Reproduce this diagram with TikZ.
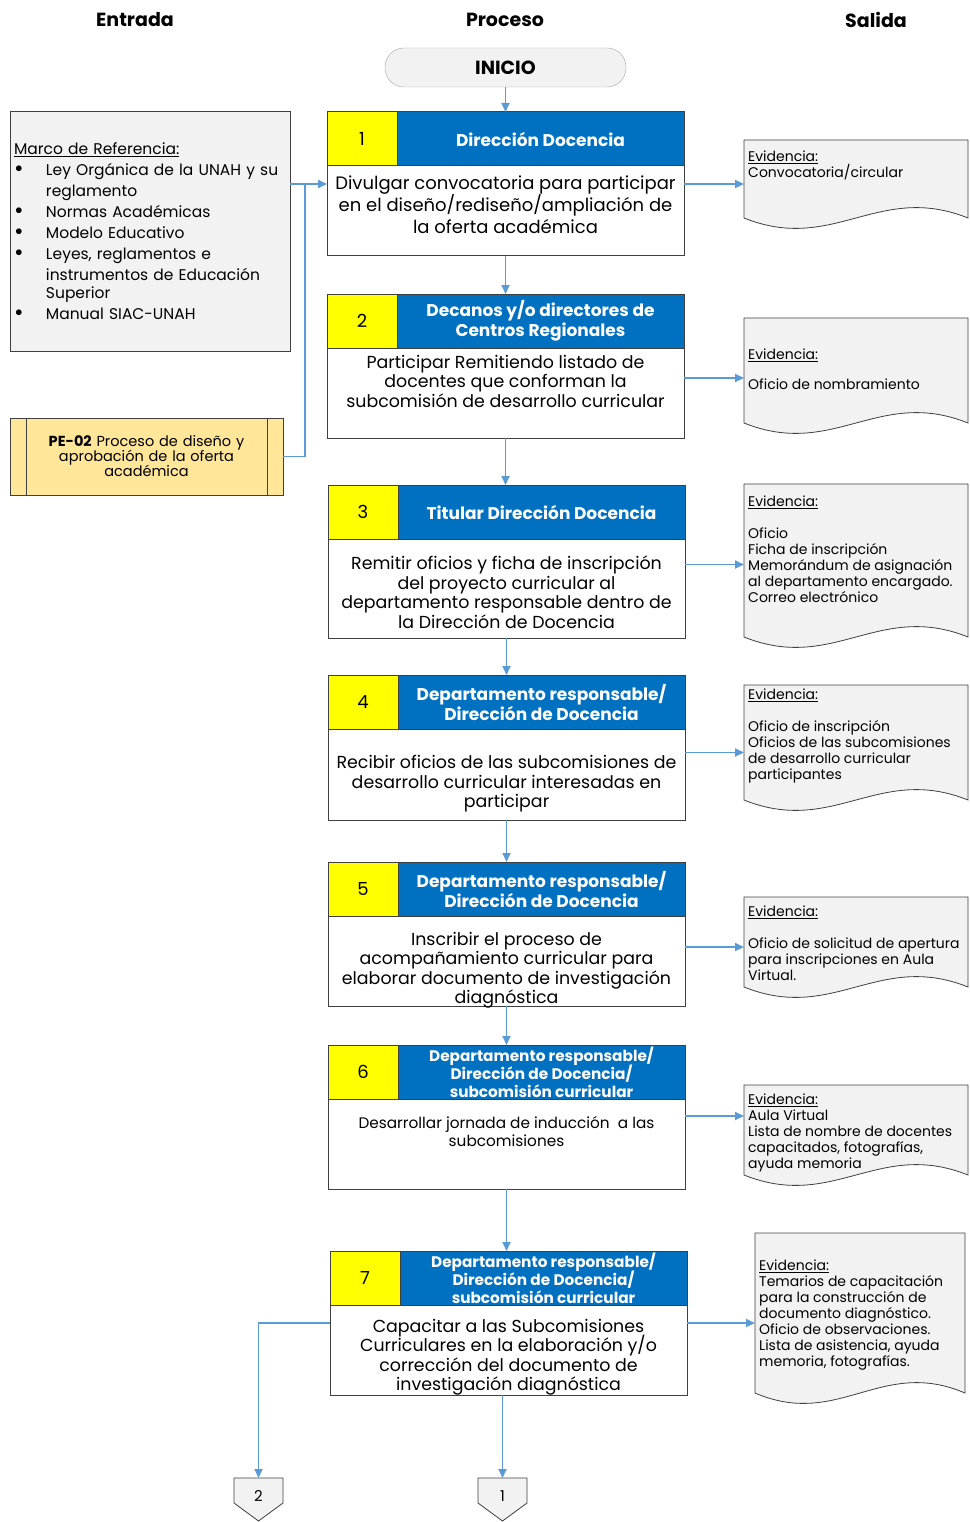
\documentclass[tikz,border=0pt]{standalone}
\usepackage{fontspec}
\setmainfont{Poppins}
\usetikzlibrary{arrows.meta,positioning,calc}
\definecolor{flowblue}{HTML}{5B9BD5}
\definecolor{headblue}{HTML}{0070C0}
\definecolor{numyellow}{HTML}{FFFF00}
\definecolor{boxgray}{HTML}{F2F2F2}
\definecolor{edgegray}{HTML}{404040}
\definecolor{procgold}{HTML}{FFE699}
\newcommand{\fs}[2]{\fontsize{#1}{#2}\selectfont\lineskiplimit=-20pt}
\newcommand{\bul}{\makebox[32pt][l]{\raisebox{-1pt}{\scalebox{1.5}{•}}}}
% one step of the process: number, x, top, body height, text offset, header font, body font, header, body
\newcommand{\paso}[9]{%
  \node[numcell,anchor=north west] (n#1) at (#2,#3) {#1};
  \node[headcell,font=\bfseries#6,anchor=north west] (h#1) at (n#1.north east) {#8};
  \node[bodycell,minimum height=#4,anchor=north west] (b#1) at (n#1.south west) {};
  \node[bodytext,font=#7,anchor=north] (t#1) at ([yshift=-#5]b#1.north) {#9};
}
% output document: name, x, top, width, height, text offset, text
\newcommand{\evid}[7]{%
  \node[docbox,minimum width=#4,minimum height=#5,anchor=north west] (#1) at (#2,#3) {};
  \path[docline] (#1.south west) -- (#1.north west) -- (#1.north east) -- (#1.south east)
    .. controls ($(#1.south east)!0.4!(#1.south west)+(0,-36)$) and ($(#1.south east)!0.6!(#1.south west)+(0,36)$) .. (#1.south west) -- cycle;
  \node[doctext,anchor=north west] (#1t) at ([xshift=4pt,yshift=-#6]#1.north west) {#7};
}

\begin{document}
\begin{tikzpicture}[x=1pt,y=-1pt,
    numcell/.style={rectangle,draw=edgegray,fill=numyellow,line width=1pt,outer sep=0pt,
      minimum width=70pt,minimum height=54pt,font=\fs{18}{20}},
    headcell/.style={rectangle,draw=edgegray,fill=headblue,line width=1pt,outer sep=0pt,
      minimum width=287pt,minimum height=54pt,align=center,text=white,inner sep=1pt},
    bodycell/.style={rectangle,draw=edgegray,fill=white,line width=1pt,outer sep=0pt,minimum width=357pt},
    bodytext/.style={align=center,inner sep=0pt},
    docbox/.style={rectangle,inner sep=0pt,outer sep=0pt},
    docline/.style={draw=edgegray,fill=boxgray,line width=0.8pt},
    doctext/.style={align=left,inner sep=0pt,font=\fs{14}{16}},
    title/.style={font=\bfseries\fs{19}{22}},
    arrow/.style={-{Triangle[length=9pt,width=8pt]},draw=flowblue,line width=1.8pt},
    link/.style={draw=flowblue,line width=1.8pt}]
  \useasboundingbox (0,0) rectangle (969,1522);

  % column titles
  \node[title] (tin) at (135,20) {Entrada};
  \node[title] (tpro) at (505,20) {Proceso};
  \node[title] (tsal) at (876,20) {Salida};

  \node[rectangle,rounded corners=19pt,draw=gray!70,fill=boxgray,minimum width=241pt,minimum height=39pt,
    font=\bfseries\fs{19}{22}] (inicio) at (505.5,67.5) {INICIO};

  % inputs
  \node[rectangle,draw=edgegray,fill=boxgray,line width=1pt,outer sep=0pt,anchor=north west,
    minimum width=280pt,minimum height=239pt,text width=272pt,inner xsep=4pt,align=left,
    font=\fs{15.5}{21}] (marco) at (10,112) {\underline{Marco de Referencia:}\\
    \bul Ley Orgánica de la UNAH y su\\
    \hspace*{32pt}reglamento\\
    \bul Normas Académicas\\
    \bul Modelo Educativo\\
    \bul Leyes,\ reglamentos\ e\\
    \hspace*{32pt}instrumentos de Educación\\[-3pt]
    \hspace*{32pt}Superior\\
    \bul Manual SIAC-UNAH};
  \node[rectangle,draw=edgegray,fill=procgold,line width=1pt,outer sep=0pt,anchor=north west,
    minimum width=273pt,minimum height=77pt,text width=235pt,align=center,
    font=\fs{14.5}{15}] (pe) at (10,418) {\textbf{PE-02} Proceso de diseño y\\aprobación de la oferta\\académica};
  \draw[draw=edgegray,line width=1pt] ([xshift=16pt]pe.north west) -- ([xshift=16pt]pe.south west)
    ([xshift=-16pt]pe.north east) -- ([xshift=-16pt]pe.south east);

  % process steps
  \paso{1}{327}{112}{90pt}{10pt}{\fs{17}{20}}{\fs{18}{22}}{Dirección Docencia}
    {Divulgar convocatoria para participar\\en el diseño/rediseño/ampliación de\\la oferta académica}
  \paso{2}{327}{294}{90pt}{7pt}{\fs{17}{20}}{\fs{17.4}{19.5}}{Decanos y/o directores de\\Centros Regionales}
    {Participar Remitiendo listado de\\docentes que conforman la\\subcomisión de desarrollo curricular}
  \paso{3}{328}{485}{99pt}{17pt}{\fs{17}{20}}{\fs{17.4}{19.5}}{Titular Dirección Docencia}
    {Remitir oficios y ficha de inscripción\\del proyecto curricular al\\departamento responsable dentro de\\la Dirección de Docencia}
  \paso{4}{328}{675}{91pt}{26pt}{\fs{17}{20}}{\fs{17.4}{19.5}}{Departamento responsable/\\Dirección de Docencia}
    {Recibir oficios de las subcomisiones de\\desarrollo curricular interesadas en\\participar}
  \paso{5}{328}{862}{90pt}{16pt}{\fs{17}{20}}{\fs{17.4}{19.5}}{Departamento responsable/\\Dirección de Docencia}
    {Inscribir el proceso de\\acompañamiento curricular para\\elaborar documento de investigación\\diagnóstica}
  \paso{6}{328}{1045}{90pt}{17pt}{\fs{15.3}{18}}{\fs{15.3}{18}}{Departamento responsable/\\Dirección de Docencia/\\subcomisión curricular}
    {Desarrollar jornada de inducción\ \ a las\\subcomisiones}
  \paso{7}{330}{1251}{90pt}{14pt}{\fs{15.3}{18}}{\fs{17.4}{19.5}}{Departamento responsable/\\Dirección de Docencia/\\subcomisión curricular}
    {Capacitar a las Subcomisiones\\Curriculares en la elaboración y/o\\corrección del documento de\\investigación diagnóstica}

  % outputs
  \evid{e1}{744}{140}{224}{78}{11pt}{\underline{Evidencia:}\\Convocatoria/circular}
  \evid{e2}{744}{318}{224}{105}{31pt}{\underline{Evidencia:}\\[14pt]Oficio de nombramiento}
  \evid{e3}{744}{484}{224}{153}{12pt}{\underline{Evidencia:}\\[16pt]Oficio\\Ficha de inscripción\\Memorándum de asignación\\al departamento encargado.\\Correo electrónico}
  \evid{e4}{744}{685}{224}{115}{4pt}{\underline{Evidencia:}\\[16pt]Oficio de inscripción\\Oficios de las subcomisiones\\de desarrollo curricular\\participantes}
  \evid{e5}{744}{897}{224}{90}{9pt}{\underline{Evidencia:}\\[16pt]Oficio de solicitud de apertura\\para inscripciones en Aula\\Virtual.}
  \evid{e6}{744}{1085}{224}{90}{9pt}{\underline{Evidencia:}\\Aula Virtual\\Lista de nombre de docentes\\capacitados, fotografías,\\ayuda memoria}
  \evid{e7}{755}{1233}{210}{160}{27pt}{\underline{Evidencia:}\\Temarios de capacitación\\para la construcción de\\documento diagnóstico.\\Oficio de observaciones.\\Lista de asistencia, ayuda\\memoria, fotografías.}

  % off-page connectors
  \node[rectangle,minimum width=49pt,minimum height=36pt,outer sep=0pt] (off2) at (258.5,1496) {};
  \node[rectangle,minimum width=49pt,minimum height=36pt,outer sep=0pt] (off1) at (502.5,1496) {};
  \foreach \o in {off1,off2}
    \path[docline] (\o.north west) -- (\o.north east) -- ([yshift=11pt]\o.south east)
      -- ([yshift=-7pt]\o.south) -- ([yshift=11pt]\o.south west) -- cycle;
  \node[font=\fs{15}{18}] (l2) at (off2) {2};
  \node[font=\fs{15}{18}] (l1) at (off1) {1};

  % connectors
  \draw[arrow] (inicio.south) -- (inicio.south |- h1.north);
  \coordinate (in1) at ([yshift=27pt]b1.west);
  \draw[link] (pe.east) -| ([xshift=-22pt]in1);
  \draw[arrow] (marco.east |- in1) -- (in1);
  \foreach \i/\j in {1/2,2/3,3/4,4/5,5/6,6/7}
    \draw[arrow] (b\i.south) -- (b\i.south |- h\j.north);
  \foreach \i/\s in {1/27,2/15,3/24,4/22,5/14,6/28,7/27}
    \draw[arrow] ([yshift=\s pt]b\i.east) coordinate (o\i) -- (o\i -| e\i.west);
  \draw[arrow] (b7.south -| off1) -- (off1.north);
  \draw[arrow] ([yshift=27pt]b7.west) -| (off2.north);
\end{tikzpicture}
\end{document}
